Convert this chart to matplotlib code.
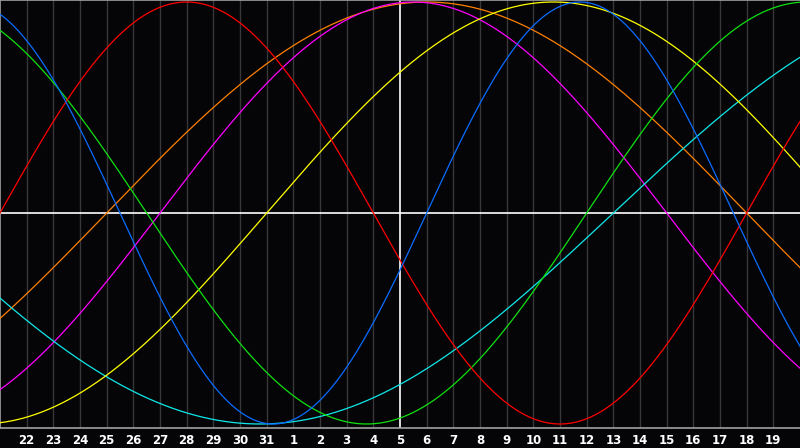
import numpy as np
import matplotlib
matplotlib.use('Agg')
import matplotlib.pyplot as plt

# biorhythm chart: 30 days window, today = 5th (centre line)
day_labels = ['21', '22', '23', '24', '25', '26', '27', '28', '29', '30', '31',
              '1', '2', '3', '4', '5', '6', '7', '8', '9', '10',
              '11', '12', '13', '14', '15', '16', '17', '18', '19', '20']
today_index = 15
days_alive_at_start = 31724

# cycle lengths (days) and line colours
periods = [23, 28, 33, 38, 43, 48, 53]
colors = ['#0a6cff', '#ff0000', '#10e010', '#ff00ff', '#ffff00', '#ff8000', '#10e8e8']
draw_order = [5, 3, 6, 4, 2, 1, 0]

fig = plt.figure(figsize=(8, 4.48), dpi=100, facecolor='#050508')
ax = fig.add_axes([0, 20 / 448, 1, 428 / 448])
ax.set_facecolor('#050508')

n_days = len(day_labels) - 1
t = np.linspace(0, n_days, 1200)

# day grid
for i in range(1, n_days):
    if i == today_index:
        continue
    ax.axvline(i, color='#383838', lw=1, zorder=1)

ax.axhline(0, color='white', lw=1.2, zorder=2)
ax.axvline(today_index, color='white', lw=1.2, zorder=2)

for k in draw_order:
    y = np.sin(2 * np.pi * (days_alive_at_start + t) / periods[k])
    ax.plot(t, y, color=colors[k], lw=0.9, zorder=3)

ax.set_xlim(0, n_days)
ax.set_ylim((213 - 428) / 211, 213 / 211)

for s in ['right']:
    ax.spines[s].set_visible(False)
for s in ['left', 'top', 'bottom']:
    ax.spines[s].set_color('#a0a0a0')
    ax.spines[s].set_linewidth(1.2)

ax.set_yticks([])
ax.set_xticks(range(1, n_days))
ax.set_xticklabels(day_labels[1:n_days], color='white', fontsize=8.5,
                   fontweight='bold', family='DejaVu Sans')
ax.tick_params(axis='x', length=0, pad=4)

fig.savefig('out.png', dpi=100, facecolor=fig.get_facecolor())
